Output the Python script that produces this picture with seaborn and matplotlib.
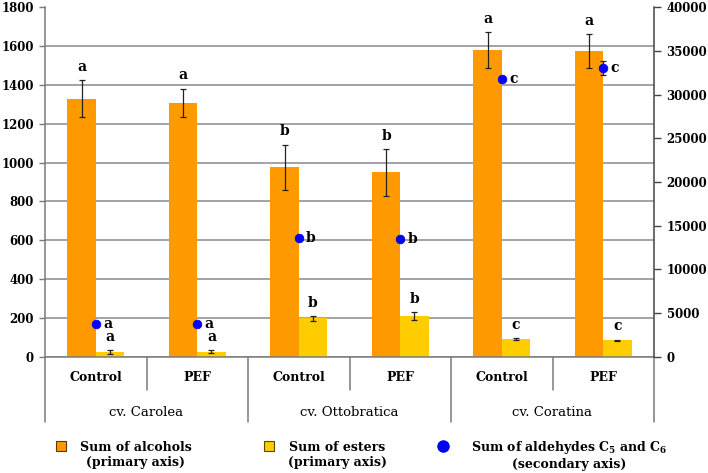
import matplotlib
matplotlib.use("Agg")
import matplotlib.pyplot as plt
import seaborn as sns
import pandas as pd
import numpy as np
from matplotlib.lines import Line2D
from matplotlib.container import BarContainer

# ---------------- data ----------------
cultivars = ["cv. Carolea", "cv. Ottobratica", "cv. Coratina"]
treatments = ["Control", "PEF"]
samples = ["Carolea Control", "Carolea PEF", "Ottobratica Control",
           "Ottobratica PEF", "Coratina Control", "Coratina PEF"]
sample_treat = ["Control", "PEF", "Control", "PEF", "Control", "PEF"]

alcohols = [1330, 1308, 976, 950, 1579, 1574]
alcohols_err = [94, 73, 117, 120, 93, 89]
esters = [23, 26, 198, 208, 90, 85]
esters_err = [10, 9, 13, 20, 4, 3]
aldehydes = [3740, 3750, 13560, 13520, 31840, 33040]
aldehydes_err = [250, 250, 150, 150, 200, 830]

alc_letters = ["a", "a", "b", "b", "a", "a"]
est_letters = ["a", "a", "b", "b", "c", "c"]
ald_letters = ["a", "a", "b", "b", "c", "c"]

left_ticks = list(range(0, 1801, 200))
right_ticks = list(range(0, 40001, 5000))

series_names = ["Sum of alcohols\n(primary axis)", "Sum of esters\n(primary axis)",
                "Sum of aldehydes C$_\\mathbf{5}$ and C$_\\mathbf{6}$\n(secondary axis)"]

C_ALC = "#FF9900"
C_EST = "#FFCC00"
C_ALD = "#0000FF"

# ---------------- style ----------------
sns.set_style("white")
plt.rcParams["font.family"] = ["DejaVu Serif"]
plt.rcParams["mathtext.fontset"] = "dejavuserif"
plt.rcParams["text.color"] = "black"
plt.rcParams["xtick.color"] = "black"
plt.rcParams["ytick.color"] = "black"
plt.rcParams["xtick.labelcolor"] = "black"
plt.rcParams["ytick.labelcolor"] = "black"

df = pd.DataFrame({
    "sample": samples * 2,
    "value": alcohols + esters,
    "compound": ["alcohols"] * 6 + ["esters"] * 6,
})

fig = plt.figure(figsize=(7.08, 4.73), dpi=100)
L, R = 45 / 708, 654 / 708
B, T = 1 - 356.7 / 473, 1 - 7.3 / 473
ax = fig.add_axes([L, B, R - L, T - B])

sns.barplot(data=df, x="sample", y="value", hue="compound", order=samples,
            hue_order=["alcohols", "esters"], palette=[C_ALC, C_EST],
            width=0.56, errorbar=None, saturation=1, ax=ax, legend=False,
            linewidth=0, zorder=2)

ax.set_xlim(-0.5, 5.5)
ax.set_ylim(0, 1800)
ax.set_yticks(left_ticks)
ax.set_xlabel("")
ax.set_ylabel("")
ax.yaxis.grid(True, color="#8a8a8a", linewidth=1.1, zorder=0)
ax.set_axisbelow(True)
ax.get_ygridlines()[-1].set_visible(False)

for side in ["top", "right"]:
    ax.spines[side].set_visible(False)
for side in ["left", "bottom"]:
    ax.spines[side].set_color("#7a7a7a")
    ax.spines[side].set_linewidth(1.1)

ax.tick_params(axis="y", direction="out", length=4, width=1, color="#7a7a7a",
               labelsize=8.5, pad=4, labelcolor="black")
for lab in ax.get_yticklabels():
    lab.set_fontweight("bold")

ax.set_xticks(range(6))
ax.set_xticklabels(sample_treat, fontsize=9, fontweight="bold")
ax.tick_params(axis="x", length=0, pad=10, labelcolor="black")

# error bars + letters for bars
series_err = [alcohols_err, esters_err]
series_let = [alc_letters, est_letters]
bar_conts = [c for c in ax.containers if isinstance(c, BarContainer)]
for ci, cont in enumerate(bar_conts):
    for bi, bar in enumerate(cont.patches):
        xc = bar.get_x() + bar.get_width() / 2
        h = bar.get_height()
        e = series_err[ci][bi]
        ax.errorbar(xc, h, yerr=e, fmt="none", ecolor="#222222", elinewidth=0.9,
                    capsize=2.5, capthick=0.9, zorder=3)
        ax.annotate(series_let[ci][bi], (xc, h + e), xytext=(0, 9.5),
                    textcoords="offset points", ha="center", va="center",
                    fontsize=10, fontweight="bold", color="black", zorder=5)

# secondary axis
ax2 = ax.twinx()
ax2.set_ylim(0, 40000)
ax2.set_yticks(right_ticks)
xs = np.arange(6)
ax2.errorbar(xs, aldehydes, yerr=aldehydes_err, fmt="none", ecolor="#222222",
             elinewidth=0.9, capsize=2.5, capthick=0.9, zorder=3)
sns.scatterplot(x=xs, y=aldehydes, ax=ax2, color=C_ALD, s=40, edgecolor=C_ALD,
                linewidth=0.5, zorder=4, legend=False)
for i in range(6):
    ax2.annotate(ald_letters[i], (xs[i], aldehydes[i]), xytext=(8.5, 0),
                 textcoords="offset points", ha="center", va="center",
                 fontsize=10, fontweight="bold", color="black")
for side in ["top", "left", "bottom"]:
    ax2.spines[side].set_visible(False)
ax2.spines["right"].set_color("#444444")
ax2.spines["right"].set_linewidth(1.1)
ax2.tick_params(axis="y", direction="out", length=5, width=1, color="#444444",
                labelsize=8.5, pad=4, labelcolor="black")
for lab in ax2.get_yticklabels():
    lab.set_fontweight("bold")
ax2.set_xlim(-0.5, 5.5)

# category table lines below the axis
tr = ax.get_xaxis_transform()
short_end = -(390 - 356.7) / 349.4
long_end = -(421.7 - 356.7) / 349.4
for xb in [0.5, 2.5, 4.5]:
    ax.plot([xb, xb], [0, short_end], transform=tr, color="#7a7a7a", lw=1.1,
            clip_on=False)
for xb in [-0.5, 1.5, 3.5, 5.5]:
    ax.plot([xb, xb], [0, long_end], transform=tr, color="#7a7a7a", lw=1.1,
            clip_on=False)
grp_y = -(412 - 356.7) / 349.4
for gi, name in enumerate(cultivars):
    ax.text(2 * gi + 0.5, grp_y, name, transform=tr, ha="center", va="center",
            fontsize=9.5, color="black")

# legend (drawn manually in figure coordinates)
W, H = 708, 473
y1 = 1 - 446 / H
y2 = 1 - 463 / H
ymid = (y1 + y2) / 2
fig.add_artist(Line2D([60.5 / W], [1 - 445.7 / H], marker="s", markersize=7.5,
                      markerfacecolor=C_ALC, markeredgecolor="#5a3a00",
                      markeredgewidth=0.8, linestyle="none",
                      transform=fig.transFigure))
fig.add_artist(Line2D([268.5 / W], [1 - 445.7 / H], marker="s", markersize=7.5,
                      markerfacecolor=C_EST, markeredgecolor="#5a4a00",
                      markeredgewidth=0.8, linestyle="none",
                      transform=fig.transFigure))
fig.add_artist(Line2D([443 / W], [1 - 445.7 / H], marker="o", markersize=8,
                      markerfacecolor=C_ALD, markeredgecolor=C_ALD,
                      linestyle="none", transform=fig.transFigure))
for cx, txt in zip([136, 337, 569.5], series_names):
    fig.text(cx / W, ymid, txt, ha="center", va="center", multialignment="center",
             fontsize=9, fontweight="bold", color="black")

fig.savefig("out.png", dpi=100)
